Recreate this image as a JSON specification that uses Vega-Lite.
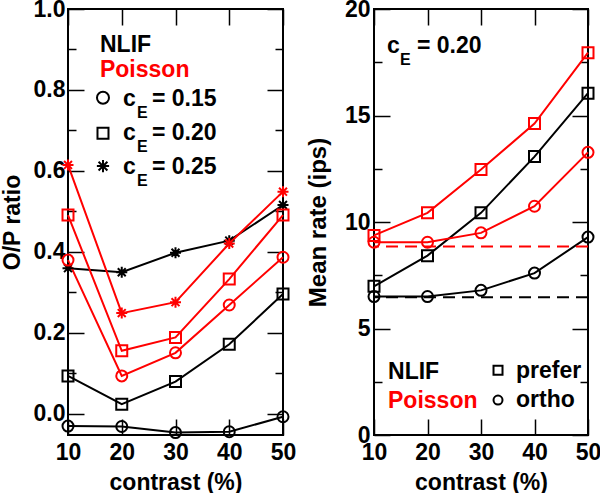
{
  "$schema": "https://vega.github.io/schema/vega-lite/v6.json",
  "padding": {"left": 0, "top": -3, "right": 0, "bottom": 0},
  "background": "white",
  "config": {
    "view": {"stroke": "black", "strokeWidth": 2},
    "font": "Liberation Sans",
    "axis": {
      "labelFont": "Liberation Sans", "labelFontWeight": "bold", "labelFontSize": 23, "labelColor": "black",
      "titleFont": "Liberation Sans", "titleFontWeight": "bold", "titleFontSize": 23, "titleColor": "black",
      "tickColor": "black", "tickWidth": 1.5, "domain": false, "grid": false,
      "labelFlush": false, "labelOverlap": false, "labelBound": false
    },
    "text": {"font": "Liberation Sans", "fontWeight": "bold", "fontSize": 23, "align": "left", "baseline": "middle"}
  },
  "resolve": {"scale": {"shape": "independent", "y": "independent"}},
  "datasets": {
    "ratio": [
      {"model": "NLIF", "cE": "0.15", "contrast": 10, "ratio": -0.030},
      {"model": "NLIF", "cE": "0.15", "contrast": 20, "ratio": -0.031},
      {"model": "NLIF", "cE": "0.15", "contrast": 30, "ratio": -0.046},
      {"model": "NLIF", "cE": "0.15", "contrast": 40, "ratio": -0.044},
      {"model": "NLIF", "cE": "0.15", "contrast": 50, "ratio": -0.007},
      {"model": "NLIF", "cE": "0.20", "contrast": 10, "ratio": 0.094},
      {"model": "NLIF", "cE": "0.20", "contrast": 20, "ratio": 0.024},
      {"model": "NLIF", "cE": "0.20", "contrast": 30, "ratio": 0.080},
      {"model": "NLIF", "cE": "0.20", "contrast": 40, "ratio": 0.172},
      {"model": "NLIF", "cE": "0.20", "contrast": 50, "ratio": 0.296},
      {"model": "NLIF", "cE": "0.25", "contrast": 10, "ratio": 0.360},
      {"model": "NLIF", "cE": "0.25", "contrast": 20, "ratio": 0.350},
      {"model": "NLIF", "cE": "0.25", "contrast": 30, "ratio": 0.398},
      {"model": "NLIF", "cE": "0.25", "contrast": 40, "ratio": 0.428},
      {"model": "NLIF", "cE": "0.25", "contrast": 50, "ratio": 0.516},
      {"model": "Poisson", "cE": "0.15", "contrast": 10, "ratio": 0.380},
      {"model": "Poisson", "cE": "0.15", "contrast": 20, "ratio": 0.094},
      {"model": "Poisson", "cE": "0.15", "contrast": 30, "ratio": 0.151},
      {"model": "Poisson", "cE": "0.15", "contrast": 40, "ratio": 0.269},
      {"model": "Poisson", "cE": "0.15", "contrast": 50, "ratio": 0.387},
      {"model": "Poisson", "cE": "0.20", "contrast": 10, "ratio": 0.491},
      {"model": "Poisson", "cE": "0.20", "contrast": 20, "ratio": 0.156},
      {"model": "Poisson", "cE": "0.20", "contrast": 30, "ratio": 0.189},
      {"model": "Poisson", "cE": "0.20", "contrast": 40, "ratio": 0.333},
      {"model": "Poisson", "cE": "0.20", "contrast": 50, "ratio": 0.491},
      {"model": "Poisson", "cE": "0.25", "contrast": 10, "ratio": 0.615},
      {"model": "Poisson", "cE": "0.25", "contrast": 20, "ratio": 0.249},
      {"model": "Poisson", "cE": "0.25", "contrast": 30, "ratio": 0.276},
      {"model": "Poisson", "cE": "0.25", "contrast": 40, "ratio": 0.421},
      {"model": "Poisson", "cE": "0.25", "contrast": 50, "ratio": 0.549}
    ],
    "rate": [
      {"model": "NLIF", "orient": "prefer", "contrast": 10, "rate": 6.98},
      {"model": "NLIF", "orient": "prefer", "contrast": 20, "rate": 8.42},
      {"model": "NLIF", "orient": "prefer", "contrast": 30, "rate": 10.43},
      {"model": "NLIF", "orient": "prefer", "contrast": 40, "rate": 13.07},
      {"model": "NLIF", "orient": "prefer", "contrast": 50, "rate": 16.05},
      {"model": "NLIF", "orient": "ortho", "contrast": 10, "rate": 6.50},
      {"model": "NLIF", "orient": "ortho", "contrast": 20, "rate": 6.50},
      {"model": "NLIF", "orient": "ortho", "contrast": 30, "rate": 6.79},
      {"model": "NLIF", "orient": "ortho", "contrast": 40, "rate": 7.60},
      {"model": "NLIF", "orient": "ortho", "contrast": 50, "rate": 9.29},
      {"model": "Poisson", "orient": "prefer", "contrast": 10, "rate": 9.37},
      {"model": "Poisson", "orient": "prefer", "contrast": 20, "rate": 10.43},
      {"model": "Poisson", "orient": "prefer", "contrast": 30, "rate": 12.46},
      {"model": "Poisson", "orient": "prefer", "contrast": 40, "rate": 14.62},
      {"model": "Poisson", "orient": "prefer", "contrast": 50, "rate": 17.95},
      {"model": "Poisson", "orient": "ortho", "contrast": 10, "rate": 9.05},
      {"model": "Poisson", "orient": "ortho", "contrast": 20, "rate": 9.05},
      {"model": "Poisson", "orient": "ortho", "contrast": 30, "rate": 9.49},
      {"model": "Poisson", "orient": "ortho", "contrast": 40, "rate": 10.74},
      {"model": "Poisson", "orient": "ortho", "contrast": 50, "rate": 13.27}
    ]
  },
  "hconcat": [
    {
      "width": 215, "height": 426,
      "data": {"name": "ratio"},
      "resolve": {"axis": {"x": "independent", "y": "independent"}},
      "layer": [
        {
          "mark": {"type": "line", "strokeWidth": 2},
          "encoding": {
            "x": {"field": "contrast", "type": "quantitative", "scale": {"domain": [10, 50], "nice": false, "zero": false},
                  "axis": {"orient": "bottom", "values": [10, 20, 30, 40, 50], "title": "contrast (%)", "tickSize": -16, "labelPadding": 22, "titlePadding": 7}},
            "y": {"field": "ratio", "type": "quantitative", "scale": {"domain": [-0.052, 1.0], "nice": false, "zero": false},
                  "axis": {"orient": "left", "values": [0, 0.1, 0.2, 0.3, 0.4, 0.5, 0.6, 0.7, 0.8, 0.9, 1.0], "title": "O/P ratio",
                           "labelExpr": "abs(datum.value*5 - round(datum.value*5)) < 0.001 ? format(datum.value, '.1f') : ''",
                           "tickSize": {"condition": {"test": "abs(datum.value*5 - round(datum.value*5)) < 0.001", "value": -16}, "value": -8},
                           "labelPadding": 19, "titlePadding": 9}},
            "color": {"field": "model", "type": "nominal", "scale": {"domain": ["NLIF", "Poisson"], "range": ["#000000", "#ff0000"]}, "legend": null},
            "detail": {"field": "cE", "type": "nominal"}
          }
        },
        {
          "mark": {"type": "point", "filled": false, "strokeWidth": 2, "size": 121, "opacity": 1},
          "encoding": {
            "x": {"field": "contrast", "type": "quantitative",
                  "axis": {"orient": "top", "values": [10, 20, 30, 40, 50], "labels": false, "title": null, "tickSize": -16}},
            "y": {"field": "ratio", "type": "quantitative",
                  "axis": {"orient": "right", "values": [0, 0.1, 0.2, 0.3, 0.4, 0.5, 0.6, 0.7, 0.8, 0.9, 1.0], "labels": false, "title": null,
                           "tickSize": {"condition": {"test": "abs(datum.value*5 - round(datum.value*5)) < 0.001", "value": -16}, "value": -8}}},
            "color": {"field": "model", "type": "nominal", "legend": null},
            "shape": {"field": "cE", "type": "nominal", "scale": {"domain": ["0.15", "0.20", "0.25"], "range": ["circle", "square", "M-1,0L1,0M0,-1L0,1M-0.72,-0.72L0.72,0.72M-0.72,0.72L0.72,-0.72"]}, "legend": null}
          }
        },
        {
          "data": {"values": [{"t": "NLIF"}]},
          "mark": {"type": "text", "color": "black"},
          "encoding": {"x": {"datum": 15.95, "type": "quantitative", "axis": null}, "y": {"datum": 0.911, "type": "quantitative", "axis": null}, "text": {"field": "t"}}
        },
        {
          "data": {"values": [{"t": "Poisson"}]},
          "mark": {"type": "text", "color": "#ff0000"},
          "encoding": {"x": {"datum": 15.95, "type": "quantitative", "axis": null}, "y": {"datum": 0.849, "type": "quantitative", "axis": null}, "text": {"field": "t"}}
        },
        {
          "data": {"values": [{}]},
          "mark": {"type": "point", "shape": "circle", "filled": false, "strokeWidth": 2, "size": 144, "color": "black", "opacity": 1},
          "encoding": {"x": {"datum": 16.51, "type": "quantitative", "axis": null}, "y": {"datum": 0.781, "type": "quantitative", "axis": null}}
        },
        {
          "data": {"values": [{}]},
          "mark": {"type": "point", "shape": "square", "filled": false, "strokeWidth": 2, "size": 121, "color": "black", "opacity": 1},
          "encoding": {"x": {"datum": 16.51, "type": "quantitative", "axis": null}, "y": {"datum": 0.693, "type": "quantitative", "axis": null}}
        },
        {
          "data": {"values": [{}]},
          "mark": {"type": "point", "shape": "M-1,0L1,0M0,-1L0,1M-0.72,-0.72L0.72,0.72M-0.72,0.72L0.72,-0.72", "filled": false, "strokeWidth": 2, "size": 150, "color": "black", "opacity": 1},
          "encoding": {"x": {"datum": 16.51, "type": "quantitative", "axis": null}, "y": {"datum": 0.612, "type": "quantitative", "axis": null}}
        },
        {
          "data": {"values": [{"t": "c\nc\nc"}]},
          "mark": {"type": "text", "color": "black", "lineBreak": "\n", "lineHeight": 34},
          "encoding": {"x": {"datum": 20.23, "type": "quantitative", "axis": null}, "y": {"datum": 0.778, "type": "quantitative", "axis": null}, "text": {"field": "t"}}
        },
        {
          "data": {"values": [{"t": "E\nE\nE"}]},
          "mark": {"type": "text", "color": "black", "lineBreak": "\n", "lineHeight": 34, "fontSize": 16, "dx": 14, "dy": 14},
          "encoding": {"x": {"datum": 20.23, "type": "quantitative", "axis": null}, "y": {"datum": 0.778, "type": "quantitative", "axis": null}, "text": {"field": "t"}}
        },
        {
          "data": {"values": [{"t": "= 0.15\n= 0.20\n= 0.25"}]},
          "mark": {"type": "text", "color": "black", "lineBreak": "\n", "lineHeight": 34, "dx": 29},
          "encoding": {"x": {"datum": 20.23, "type": "quantitative", "axis": null}, "y": {"datum": 0.778, "type": "quantitative", "axis": null}, "text": {"field": "t"}}
        }
      ]
    },
    {
      "width": 214, "height": 426,
      "data": {"name": "rate"},
      "resolve": {"axis": {"x": "independent", "y": "independent"}},
      "layer": [
        {
          "mark": {"type": "line", "strokeWidth": 2},
          "encoding": {
            "x": {"field": "contrast", "type": "quantitative", "scale": {"domain": [10, 50], "nice": false, "zero": false},
                  "axis": {"orient": "bottom", "values": [10, 20, 30, 40, 50], "title": "contrast (%)", "tickSize": -16, "labelPadding": 22, "titlePadding": 7}},
            "y": {"field": "rate", "type": "quantitative", "scale": {"domain": [0, 20], "nice": false, "zero": false},
                  "axis": {"orient": "left", "values": [0, 2.5, 5, 7.5, 10, 12.5, 15, 17.5, 20], "title": "Mean rate (ips)",
                           "labelExpr": "datum.value % 5 === 0 ? format(datum.value, 'd') : ''",
                           "tickSize": {"condition": {"test": "datum.value % 5 === 0", "value": -16}, "value": -8},
                           "labelPadding": 20, "titlePadding": 14, "titleFontSize": 24}},
            "color": {"field": "model", "type": "nominal", "scale": {"domain": ["NLIF", "Poisson"], "range": ["#000000", "#ff0000"]}, "legend": null},
            "detail": {"field": "orient", "type": "nominal"}
          }
        },
        {
          "data": {"values": [{}]},
          "mark": {"type": "rule", "color": "#ff0000", "strokeWidth": 2, "strokeDash": [12, 7]},
          "encoding": {"y": {"datum": 8.85, "type": "quantitative", "axis": null}}
        },
        {
          "data": {"values": [{}]},
          "mark": {"type": "rule", "color": "#000000", "strokeWidth": 2, "strokeDash": [12, 7]},
          "encoding": {"y": {"datum": 6.47, "type": "quantitative", "axis": null}}
        },
        {
          "mark": {"type": "point", "filled": false, "strokeWidth": 2, "size": 121, "opacity": 1},
          "encoding": {
            "x": {"field": "contrast", "type": "quantitative",
                  "axis": {"orient": "top", "values": [10, 20, 30, 40, 50], "labels": false, "title": null, "tickSize": -16}},
            "y": {"field": "rate", "type": "quantitative",
                  "axis": {"orient": "right", "values": [0, 2.5, 5, 7.5, 10, 12.5, 15, 17.5, 20], "labels": false, "title": null,
                           "tickSize": {"condition": {"test": "datum.value % 5 === 0", "value": -16}, "value": -8}}},
            "color": {"field": "model", "type": "nominal", "legend": null},
            "shape": {"field": "orient", "type": "nominal", "scale": {"domain": ["prefer", "ortho"], "range": ["square", "circle"]}, "legend": null}
          }
        },
        {
          "data": {"values": [{"t": "c"}]},
          "mark": {"type": "text", "color": "black"},
          "encoding": {"x": {"datum": 12.43, "type": "quantitative", "axis": null}, "y": {"datum": 18.27, "type": "quantitative", "axis": null}, "text": {"field": "t"}}
        },
        {
          "data": {"values": [{"t": "E"}]},
          "mark": {"type": "text", "color": "black", "fontSize": 16, "dx": 13, "dy": 14},
          "encoding": {"x": {"datum": 12.43, "type": "quantitative", "axis": null}, "y": {"datum": 18.27, "type": "quantitative", "axis": null}, "text": {"field": "t"}}
        },
        {
          "data": {"values": [{"t": "= 0.20"}]},
          "mark": {"type": "text", "color": "black", "dx": 30},
          "encoding": {"x": {"datum": 12.43, "type": "quantitative", "axis": null}, "y": {"datum": 18.27, "type": "quantitative", "axis": null}, "text": {"field": "t"}}
        },
        {
          "data": {"values": [{"t": "NLIF"}]},
          "mark": {"type": "text", "color": "black"},
          "encoding": {"x": {"datum": 12.62, "type": "quantitative", "axis": null}, "y": {"datum": 2.95, "type": "quantitative", "axis": null}, "text": {"field": "t"}}
        },
        {
          "data": {"values": [{"t": "Poisson"}]},
          "mark": {"type": "text", "color": "#ff0000"},
          "encoding": {"x": {"datum": 12.62, "type": "quantitative", "axis": null}, "y": {"datum": 1.59, "type": "quantitative", "axis": null}, "text": {"field": "t"}}
        },
        {
          "data": {"values": [{}]},
          "mark": {"type": "point", "shape": "square", "filled": false, "strokeWidth": 2, "size": 81, "color": "black", "opacity": 1},
          "encoding": {"x": {"datum": 33.18, "type": "quantitative", "axis": null}, "y": {"datum": 3.04, "type": "quantitative", "axis": null}}
        },
        {
          "data": {"values": [{}]},
          "mark": {"type": "point", "shape": "circle", "filled": false, "strokeWidth": 2, "size": 81, "color": "black", "opacity": 1},
          "encoding": {"x": {"datum": 33.18, "type": "quantitative", "axis": null}, "y": {"datum": 1.64, "type": "quantitative", "axis": null}}
        },
        {
          "data": {"values": [{"t": "prefer\northo"}]},
          "mark": {"type": "text", "color": "black", "lineBreak": "\n", "lineHeight": 29},
          "encoding": {"x": {"datum": 36.54, "type": "quantitative", "axis": null}, "y": {"datum": 3.0, "type": "quantitative", "axis": null}, "text": {"field": "t"}}
        }
      ]
    }
  ],
  "spacing": 91,
  "bounds": "flush"
}
